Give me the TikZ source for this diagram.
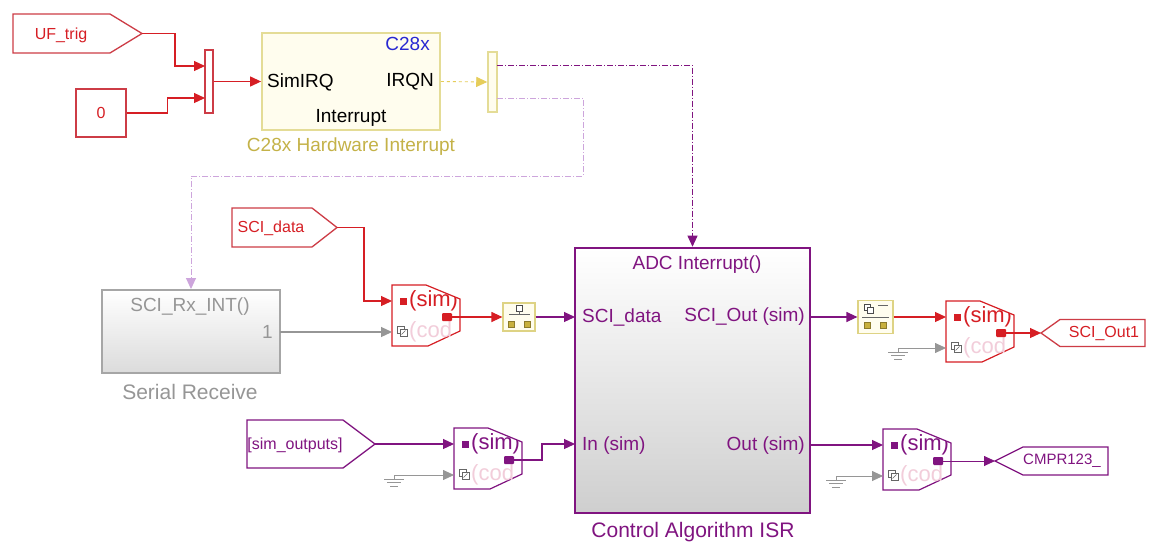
\documentclass[tikz,border=0pt]{standalone}
\usepackage{fontspec}
\setmainfont{Liberation Sans}
\usetikzlibrary{arrows.meta}
\definecolor{sred}{RGB}{214,30,36}
\definecolor{tagred}{RGB}{205,60,70}
\definecolor{spurple}{RGB}{128,20,128}
\definecolor{lpurple}{RGB}{205,165,220}
\definecolor{syellow}{RGB}{230,205,90}
\definecolor{ybord}{RGB}{228,220,150}
\definecolor{yfill}{RGB}{255,253,238}
\definecolor{capyel}{RGB}{196,178,72}
\definecolor{sblue}{RGB}{40,40,210}
\definecolor{sgray}{RGB}{150,150,150}
\definecolor{lpink}{RGB}{242,205,218}
\definecolor{olv}{RGB}{200,176,60}
\tikzset{
  sig/.style={line width=1.2pt,-{Triangle[length=11pt,width=10pt]}},
  btxt/.style={inner sep=0pt,font=\fontsize{19}{22}\selectfont},
  captxt/.style={inner sep=0pt,font=\fontsize{21}{24}\selectfont},
  tagtxt/.style={inner sep=0pt,font=\fontsize{16}{19}\selectfont},
  tagline/.style={line width=1.3pt,fill=white},
  dashdot/.style={dash pattern=on 6pt off 2pt on 1pt off 2pt,line width=0.9pt},
}
\newcommand{\envblock}[4]{%
  \begin{scope}[shift={(#2,#3)}]
    \path[draw=#4,line width=1.2pt,fill=white] (0,0) -- (34,0) -- (68,14) -- (68,46) -- (36,61) -- (0,61) -- cycle;
    \begin{scope}
      \clip (0,0) -- (34,0) -- (68,14) -- (68,46) -- (36,61) -- (0,61) -- cycle;
      \node[anchor=west,inner sep=0pt,text=#4,font=\fontsize{22}{25}\selectfont] (#1sim) at (17,16) {(sim)};
      \node[anchor=west,inner sep=0pt,text=lpink,font=\fontsize{22}{25}\selectfont] (#1cod) at (17,47) {(cod};
    \end{scope}
    \fill[#4] (7.5,12.5) rectangle (15,19.5);
    \fill[#4,rounded corners=1pt] (50,28) rectangle (60,36);
    \draw[gray!80!black,line width=0.7pt,fill=white] (5,41) rectangle (12,48);
    \draw[gray!80!black,line width=0.7pt,fill=white] (8,44) rectangle (15,51);
    \draw[gray!80!black,line width=0.6pt] (9.5,49.5) -- (13.5,45.5);
    \coordinate (#1in1) at (0,16);
    \coordinate (#1in2) at (0,47);
    \coordinate (#1out) at (60,32);
  \end{scope}}
\newcommand{\gndsym}[3]{%
  \coordinate (#1) at (#2,#3);
  \draw[sgray,line width=0.8pt] (#2,#3) -- ++(0,4);
  \draw[sgray,line width=0.8pt] ([shift={(-10,4)}]#1) -- ++(20,0);
  \draw[sgray,line width=0.8pt] ([shift={(-7,7.5)}]#1) -- ++(14,0);
  \draw[sgray,line width=0.8pt] ([shift={(-4,11)}]#1) -- ++(8,0);}
\begin{document}
\begin{tikzpicture}[x=1pt,y=-1pt]
\useasboundingbox (0,0) rectangle (1157,544);
\fill[white] (0,0) rectangle (1157,544);

% ---------- top-left sources ----------
\draw[tagred,tagline] (13,14) -- (110,14) -- (142,33.5) -- (110,53) -- (13,53) -- cycle;
\node[tagtxt,text=sred] (uftxt) at (61,35) {UF\_trig};
\coordinate (uftip) at (142,33.5);

\node[draw=tagred,line width=1.3pt,fill=white,minimum width=50pt,minimum height=48pt,inner sep=0pt] (const) at (101,113) {};
\node[tagtxt,text=sred] (ctxt) at (101,113) {0};

\node[draw=tagred,line width=1.3pt,fill=white,minimum width=8pt,minimum height=63pt,inner sep=0pt] (mux) at (209,81.5) {};
\coordinate (muxin1) at (205,66);
\coordinate (muxin2) at (205,98);

\draw[sig,sred] (uftip) -- ++(33,0) |- (muxin1);
\draw[sig,sred] (const.east) -- ++(41,0) |- (muxin2);

% ---------- hardware interrupt ----------
\node[draw=ybord,line width=1.8pt,fill=yfill,minimum width=178pt,minimum height=97pt,inner sep=0pt] (hwi) at (351,81.5) {};
\node[btxt,text=sblue,anchor=east] (c28) at (430,44) {C28x};
\node[btxt,anchor=west] (simirq) at (267,82) {SimIRQ};
\node[btxt,anchor=east] (irqn) at (434,82) {IRQN};
\node[btxt] (intr) at (351,118) {Interrupt};
\node[btxt,text=capyel] (hwicap) at (351,147) {C28x Hardware Interrupt};

\draw[sig,sred] (mux.east) -- (hwi.west);

\node[draw=ybord,line width=1.5pt,fill=yfill,minimum width=9pt,minimum height=60pt,inner sep=0pt] (demux) at (492.5,82) {};
\draw[sig,syellow,dashed,line width=0.9pt] (hwi.east) -- (demux.west);
\coordinate (dmout1) at (497,65);
\coordinate (dmout2) at (497,98);

% ---------- ADC block ----------
\node[draw=spurple,line width=2.6pt,top color=white,middle color=gray!6,bottom color=gray!38,minimum width=235pt,minimum height=265pt,inner sep=0pt] (adc) at (692.5,380.5) {};
\node[btxt,text=spurple] (adctitle) at (697,265) {ADC Interrupt()};
\node[btxt,text=spurple,anchor=west] (pscid) at (582,317) {SCI\_data};
\node[btxt,text=spurple,anchor=east] (pscio) at (805,317) {SCI\_Out (sim)};
\node[btxt,text=spurple,anchor=west] (pin) at (582,446) {In (sim)};
\node[btxt,text=spurple,anchor=east] (pout) at (805,446) {Out (sim)};
\node[captxt,text=spurple] (adccap) at (693,532) {Control Algorithm ISR};
\coordinate (adcin1) at (575,317);
\coordinate (adcin2) at (575,444);
\coordinate (adcout1) at (810,317);
\coordinate (adcout2) at (810,445);

\draw[sig,spurple,dashdot] (dmout1) -| (adc.north);

% ---------- serial receive ----------
\node[draw=sgray!85,line width=2pt,top color=white,bottom color=gray!28,minimum width=178pt,minimum height=83pt,inner sep=0pt] (ser) at (191,331.5) {};
\node[btxt,text=sgray] (sertitle) at (190,307) {SCI\_Rx\_INT()};
\node[btxt,text=sgray,anchor=east] (serone) at (273,332) {1};
\node[captxt,text=sgray] (sercap) at (190,392) {Serial Receive};
\coordinate (serout) at (280,332);

\draw[sig,lpurple,dashdot] (dmout2) -- ++(86,0) -- ++(0,78) -| (ser.north);

% ---------- SCI_data path ----------
\draw[tagred,tagline] (232,208) -- (312,208) -- (337,227.5) -- (312,247) -- (232,247) -- cycle;
\node[tagtxt,text=sred] (scidtxt) at (271,228) {SCI\_data};
\coordinate (scidtip) at (337,227.5);

\envblock{ea}{392}{285}{sred}
\draw[sig,sred] (scidtip) -- ++(27,0) |- (eain1);
\draw[sig,sgray] (serout) -- (eain2);

\node[draw=ybord!80!olv,line width=1.2pt,fill=yfill,minimum width=32pt,minimum height=28pt,inner sep=0pt] (rt1) at (519,317) {};
\draw[black!70,line width=0.6pt,fill=white] (516,305) rectangle (522,311);
\draw[black!60,line width=0.6pt] (519,311) -- (519,314);
\draw[black!60,line width=0.6pt] (509,314) -- (530,314);
\draw[olv!70!black,line width=0.5pt,fill=olv] (508,321) rectangle (514,327);
\draw[olv!70!black,line width=0.5pt,fill=olv] (524,321) rectangle (530,327);
\draw[sig,sred] (eaout) -- (rt1.west);
\draw[sig,spurple] (rt1.east) -- (adcin1);

% ---------- sim_outputs path ----------
\draw[spurple,tagline] (247,420) -- (343,420) -- (375,444) -- (343,468) -- (247,468) -- cycle;
\node[tagtxt,text=spurple] (simotxt) at (295,445) {[sim\_outputs]};
\coordinate (simotip) at (375,444);

\envblock{eb}{454}{428}{spurple}
\draw[sig,spurple] (simotip) -- (ebin1);
\gndsym{gb}{394}{475}
\draw[sig,sgray,line width=0.8pt] (gb) -- (ebin2);
\draw[sig,spurple] (ebout) -- ++(28,0) |- (adcin2);

% ---------- SCI_Out path ----------
\node[draw=ybord!80!olv,line width=1.2pt,fill=yfill,minimum width=35pt,minimum height=33pt,inner sep=0pt] (rt2) at (875.5,317) {};
\draw[black!70,line width=0.6pt,fill=white] (864,304) rectangle (870,310);
\draw[black!70,line width=0.6pt,fill=white] (867,307) rectangle (873,313);
\draw[black!60,line width=0.6pt] (878,305) -- (888,305);
\draw[black!60,line width=0.6pt] (862,317) -- (889,317);
\draw[olv!70!black,line width=0.5pt,fill=olv] (864,322) rectangle (870,328);
\draw[olv!70!black,line width=0.5pt,fill=olv] (880,322) rectangle (886,328);
\draw[sig,spurple] (adcout1) -- (rt2.west);

\envblock{ec}{946}{301}{sred}
\draw[sig,sred] (rt2.east) -- (ecin1);
\gndsym{gc}{898}{348}
\draw[sig,sgray,line width=0.8pt] (gc) -- (ecin2);

\draw[tagred,tagline] (1041,333) -- (1060,319.5) -- (1145,319.5) -- (1145,346.5) -- (1060,346.5) -- cycle;
\node[tagtxt,text=sred] (sciotxt) at (1104,333) {SCI\_Out1};
\coordinate (sciotip) at (1041,333);
\draw[sig,sred] (ecout) -- (sciotip);

% ---------- Out (sim) path ----------
\envblock{ed}{883}{429}{spurple}
\draw[sig,spurple] (adcout2) -- (edin1);
\gndsym{gd}{836}{476}
\draw[sig,sgray,line width=0.8pt] (gd) -- (edin2);

\draw[spurple,tagline] (995,461) -- (1023,447) -- (1108,447) -- (1108,475) -- (1023,475) -- cycle;
\node[tagtxt,text=spurple,font=\fontsize{15}{18}\selectfont] (cmprtxt) at (1062,461) {CMPR123\_};
\coordinate (cmprtip) at (995,461);
\draw[sig,spurple,line width=0.8pt] (edout) -- (cmprtip);
\end{tikzpicture}
\end{document}
